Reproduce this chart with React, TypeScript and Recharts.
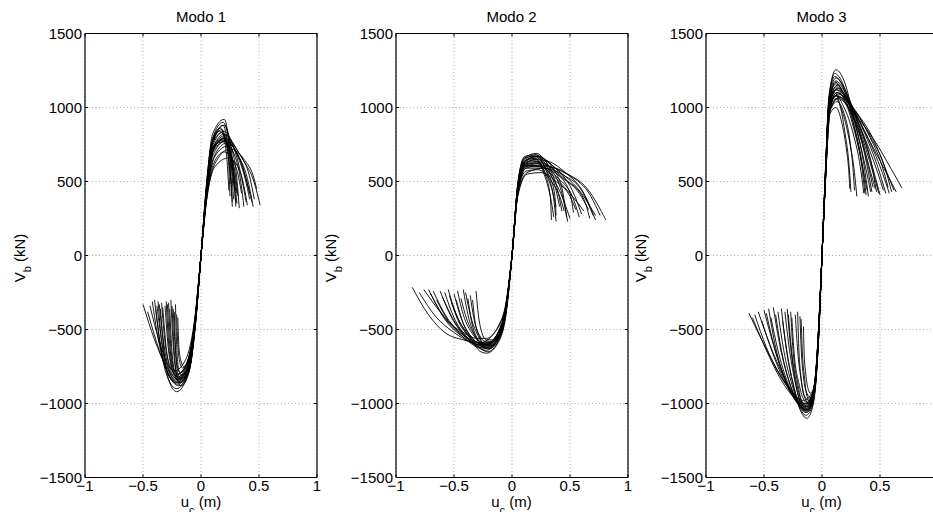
import React from 'react';
import { LineChart, Line, XAxis, YAxis, CartesianGrid, ReferenceLine } from 'recharts';

// ---- tick values / labels ----
const X_TICKS = [-1, -0.5, 0, 0.5, 1];
const Y_TICKS = [-1500, -1000, -500, 0, 500, 1000, 1500];
const TITLES = ['Modo 1', 'Modo 2', 'Modo 3'];

// ---- Modo 1 curves: [u_c (m), V_b (kN)] ----
const modo1: number[][][] = [
  [[-0.5, -330], [-0.4, -570], [-0.3, -750], [-0.22, -840], [-0.12, -760], [-0.05, -440], [0, 0], [0.05, 420], [0.11, 690], [0.22, 780], [0.36, 650], [0.46, 490], [0.51, 340]],
  [[-0.46, -380], [-0.36, -640], [-0.28, -800], [-0.2, -870], [-0.11, -780], [-0.05, -460], [0, 0], [0.05, 450], [0.11, 740], [0.2, 820], [0.32, 700], [0.42, 530], [0.46, 380]],
  [[-0.4, -300], [-0.36, -560], [-0.29, -820], [-0.21, -900], [-0.12, -800], [-0.05, -470], [0, 0], [0.05, 470], [0.11, 780], [0.2, 880], [0.26, 720], [0.3, 330]],
  [[-0.37, -310], [-0.34, -580], [-0.27, -820], [-0.19, -880], [-0.11, -800], [-0.05, -480], [0, 0], [0.05, 480], [0.1, 790], [0.19, 900], [0.25, 720], [0.28, 380]],
  [[-0.34, -320], [-0.31, -590], [-0.26, -760], [-0.2, -820], [-0.12, -730], [-0.05, -420], [0, 0], [0.05, 420], [0.12, 680], [0.22, 760], [0.34, 640], [0.42, 420]],
  [[-0.31, -340], [-0.28, -640], [-0.23, -810], [-0.18, -850], [-0.1, -760], [-0.05, -470], [0, 0], [0.05, 470], [0.1, 770], [0.18, 850], [0.23, 700], [0.26, 480]],
  [[-0.29, -330], [-0.27, -600], [-0.24, -760], [-0.2, -800], [-0.12, -720], [-0.05, -430], [0, 0], [0.05, 410], [0.12, 670], [0.23, 740], [0.32, 600], [0.37, 330]],
  [[-0.27, -360], [-0.25, -650], [-0.22, -800], [-0.19, -830], [-0.11, -750], [-0.05, -450], [0, 0], [0.05, 450], [0.11, 720], [0.21, 800], [0.29, 640], [0.33, 320]],
  [[-0.25, -340], [-0.23, -650], [-0.2, -850], [-0.17, -880], [-0.1, -780], [-0.05, -480], [0, 0], [0.05, 490], [0.1, 790], [0.17, 860], [0.22, 680], [0.24, 440]],
  [[-0.23, -380], [-0.22, -620], [-0.2, -760], [-0.18, -790], [-0.11, -700], [-0.05, -420], [0, 0], [0.05, 400], [0.12, 640], [0.2, 700], [0.3, 600], [0.35, 420]],
  [[-0.21, -400], [-0.2, -600], [-0.18, -730], [-0.16, -760], [-0.1, -680], [-0.05, -410], [0, 0], [0.05, 380], [0.12, 600], [0.24, 660], [0.34, 560], [0.4, 340]],
  [[-0.44, -340], [-0.36, -580], [-0.29, -730], [-0.23, -780], [-0.13, -700], [-0.05, -400], [0, 0], [0.05, 390], [0.12, 620], [0.25, 720], [0.38, 640], [0.45, 540], [0.48, 450]],
  [[-0.35, -360], [-0.32, -640], [-0.27, -860], [-0.21, -920], [-0.12, -820], [-0.05, -490], [0, 0], [0.05, 500], [0.1, 820], [0.2, 920], [0.24, 760], [0.27, 360]],
  [[-0.3, -310], [-0.28, -580], [-0.25, -760], [-0.22, -810], [-0.12, -740], [-0.05, -440], [0, 0], [0.05, 440], [0.11, 720], [0.19, 780], [0.27, 620], [0.31, 350]],
  [[-0.2, -420], [-0.19, -620], [-0.17, -720], [-0.15, -750], [-0.09, -680], [-0.04, -380], [0, 0], [0.04, 420], [0.09, 750], [0.16, 840], [0.24, 700], [0.29, 440]],
  [[-0.38, -340], [-0.33, -620], [-0.26, -810], [-0.2, -860], [-0.11, -780], [-0.05, -460], [0, 0], [0.05, 460], [0.11, 740], [0.21, 810], [0.31, 660], [0.39, 360]],
  [[-0.42, -310], [-0.37, -560], [-0.3, -770], [-0.22, -860], [-0.12, -790], [-0.05, -470], [0, 0], [0.05, 460], [0.11, 760], [0.2, 840], [0.3, 700], [0.38, 520], [0.42, 380]],
  [[-0.33, -350], [-0.3, -620], [-0.25, -800], [-0.2, -840], [-0.11, -760], [-0.05, -450], [0, 0], [0.05, 450], [0.11, 730], [0.2, 790], [0.27, 640], [0.31, 420]],
  [[-0.28, -320], [-0.26, -620], [-0.22, -820], [-0.18, -860], [-0.1, -770], [-0.05, -460], [0, 0], [0.05, 470], [0.1, 760], [0.18, 830], [0.24, 660], [0.27, 330]],
  [[-0.24, -360], [-0.22, -640], [-0.2, -800], [-0.17, -830], [-0.1, -740], [-0.05, -440], [0, 0], [0.05, 440], [0.11, 730], [0.19, 790], [0.26, 650], [0.3, 360]],
  [[-0.36, -330], [-0.32, -600], [-0.27, -780], [-0.21, -830], [-0.12, -750], [-0.05, -440], [0, 0], [0.05, 430], [0.11, 710], [0.21, 770], [0.33, 660], [0.44, 360]],
  [[-0.26, -300], [-0.24, -600], [-0.21, -800], [-0.18, -840], [-0.1, -760], [-0.05, -450], [0, 0], [0.05, 460], [0.1, 770], [0.19, 880], [0.23, 740], [0.25, 400]],
  [[-0.39, -360], [-0.35, -600], [-0.29, -790], [-0.22, -850], [-0.12, -770], [-0.05, -450], [0, 0], [0.05, 440], [0.11, 720], [0.21, 790], [0.3, 700], [0.4, 520], [0.45, 330]],
  [[-0.22, -330], [-0.21, -600], [-0.19, -780], [-0.17, -810], [-0.1, -730], [-0.05, -430], [0, 0], [0.05, 450], [0.11, 740], [0.2, 770], [0.28, 620], [0.32, 400]],
];

// ---- Modo 2 curves ----
const modo2: number[][][] = [
  [[-0.86, -215], [-0.72, -400], [-0.58, -520], [-0.42, -570], [-0.28, -590], [-0.15, -520], [-0.05, -330], [0, 0], [0.05, 420], [0.12, 590], [0.25, 610], [0.45, 560], [0.65, 450], [0.81, 240]],
  [[-0.76, -230], [-0.62, -380], [-0.48, -500], [-0.32, -580], [-0.22, -600], [-0.12, -520], [-0.05, -340], [0, 0], [0.05, 430], [0.12, 600], [0.3, 600], [0.5, 540], [0.68, 400], [0.76, 270]],
  [[-0.72, -230], [-0.6, -400], [-0.45, -530], [-0.3, -620], [-0.22, -640], [-0.12, -560], [-0.05, -370], [0, 0], [0.05, 460], [0.12, 630], [0.24, 650], [0.42, 560], [0.6, 420], [0.72, 270]],
  [[-0.68, -240], [-0.56, -420], [-0.42, -540], [-0.29, -600], [-0.2, -590], [-0.11, -500], [-0.05, -330], [0, 0], [0.05, 440], [0.12, 620], [0.26, 620], [0.45, 520], [0.62, 380], [0.67, 250]],
  [[-0.62, -240], [-0.52, -420], [-0.4, -550], [-0.28, -620], [-0.21, -630], [-0.12, -560], [-0.05, -360], [0, 0], [0.05, 470], [0.11, 640], [0.22, 670], [0.36, 600], [0.52, 440], [0.6, 280]],
  [[-0.58, -250], [-0.5, -420], [-0.4, -540], [-0.28, -610], [-0.2, -620], [-0.11, -540], [-0.05, -350], [0, 0], [0.05, 450], [0.12, 610], [0.24, 630], [0.38, 560], [0.5, 420], [0.53, 290]],
  [[-0.55, -230], [-0.48, -400], [-0.38, -530], [-0.27, -630], [-0.21, -650], [-0.12, -580], [-0.05, -380], [0, 0], [0.05, 480], [0.11, 660], [0.21, 690], [0.32, 600], [0.43, 420], [0.48, 230]],
  [[-0.5, -260], [-0.44, -420], [-0.36, -540], [-0.27, -600], [-0.21, -610], [-0.11, -530], [-0.05, -350], [0, 0], [0.05, 460], [0.12, 640], [0.23, 670], [0.33, 580], [0.4, 420], [0.43, 300]],
  [[-0.47, -240], [-0.42, -400], [-0.34, -530], [-0.26, -590], [-0.2, -600], [-0.11, -520], [-0.05, -340], [0, 0], [0.05, 440], [0.12, 600], [0.22, 620], [0.32, 540], [0.37, 400], [0.38, 270]],
  [[-0.44, -290], [-0.39, -430], [-0.32, -540], [-0.25, -590], [-0.19, -590], [-0.1, -510], [-0.05, -340], [0, 0], [0.05, 450], [0.12, 620], [0.2, 650], [0.28, 560], [0.33, 400], [0.34, 240]],
  [[-0.4, -250], [-0.36, -400], [-0.3, -530], [-0.24, -600], [-0.19, -610], [-0.1, -530], [-0.05, -350], [0, 0], [0.05, 470], [0.11, 640], [0.19, 660], [0.28, 570], [0.35, 430], [0.38, 330]],
  [[-0.36, -270], [-0.33, -420], [-0.28, -540], [-0.23, -580], [-0.18, -580], [-0.1, -500], [-0.05, -330], [0, 0], [0.05, 420], [0.12, 570], [0.22, 580], [0.34, 500], [0.42, 380], [0.45, 300]],
  [[-0.31, -240], [-0.29, -400], [-0.26, -520], [-0.22, -570], [-0.18, -570], [-0.1, -490], [-0.05, -320], [0, 0], [0.05, 400], [0.13, 550], [0.25, 560], [0.38, 500], [0.5, 400], [0.55, 310]],
  [[-0.65, -300], [-0.55, -440], [-0.42, -520], [-0.3, -560], [-0.22, -560], [-0.12, -480], [-0.05, -310], [0, 0], [0.05, 410], [0.13, 560], [0.28, 590], [0.45, 540], [0.6, 440], [0.7, 270]],
  [[-0.52, -320], [-0.45, -450], [-0.36, -560], [-0.27, -650], [-0.22, -660], [-0.12, -590], [-0.05, -390], [0, 0], [0.05, 490], [0.11, 670], [0.2, 680], [0.3, 560], [0.36, 380], [0.38, 230]],
  [[-0.8, -250], [-0.66, -410], [-0.5, -520], [-0.34, -590], [-0.24, -610], [-0.12, -540], [-0.05, -350], [0, 0], [0.05, 450], [0.12, 620], [0.28, 640], [0.46, 560], [0.62, 420], [0.72, 240]],
  [[-0.7, -260], [-0.58, -430], [-0.44, -540], [-0.3, -600], [-0.22, -600], [-0.12, -520], [-0.05, -340], [0, 0], [0.05, 440], [0.12, 610], [0.26, 600], [0.4, 520], [0.52, 400], [0.58, 260]],
  [[-0.6, -280], [-0.5, -440], [-0.38, -560], [-0.27, -620], [-0.21, -620], [-0.11, -550], [-0.05, -360], [0, 0], [0.05, 460], [0.12, 640], [0.24, 660], [0.36, 580], [0.44, 420], [0.47, 260]],
  [[-0.48, -300], [-0.42, -460], [-0.34, -560], [-0.26, -610], [-0.2, -620], [-0.11, -540], [-0.05, -350], [0, 0], [0.05, 470], [0.11, 650], [0.21, 680], [0.3, 600], [0.38, 440], [0.41, 330]],
  [[-0.42, -230], [-0.38, -400], [-0.32, -540], [-0.25, -620], [-0.2, -630], [-0.11, -560], [-0.05, -370], [0, 0], [0.05, 480], [0.11, 660], [0.2, 670], [0.3, 580], [0.42, 420], [0.5, 250]],
  [[-0.38, -290], [-0.35, -440], [-0.3, -560], [-0.24, -610], [-0.19, -610], [-0.1, -530], [-0.05, -350], [0, 0], [0.05, 450], [0.12, 610], [0.24, 600], [0.38, 520], [0.52, 400], [0.62, 300]],
  [[-0.54, -270], [-0.47, -430], [-0.38, -540], [-0.28, -590], [-0.21, -590], [-0.11, -510], [-0.05, -330], [0, 0], [0.05, 430], [0.12, 590], [0.27, 590], [0.44, 520], [0.58, 420], [0.66, 310]],
  [[-0.34, -300], [-0.32, -440], [-0.28, -550], [-0.23, -600], [-0.18, -600], [-0.1, -520], [-0.05, -340], [0, 0], [0.05, 460], [0.12, 630], [0.2, 640], [0.29, 520], [0.34, 360], [0.36, 260]],
];

// ---- Modo 3 curves ----
const modo3: number[][][] = [
  [[-0.63, -390], [-0.5, -600], [-0.35, -820], [-0.22, -960], [-0.14, -1000], [-0.07, -900], [-0.03, -500], [0, 0], [0.03, 500], [0.06, 950], [0.12, 1080], [0.25, 980], [0.45, 780], [0.6, 580], [0.69, 455]],
  [[-0.55, -380], [-0.45, -600], [-0.33, -820], [-0.22, -970], [-0.14, -1020], [-0.07, -920], [-0.03, -520], [0, 0], [0.03, 520], [0.06, 980], [0.13, 1100], [0.25, 1000], [0.42, 760], [0.58, 520], [0.64, 430]],
  [[-0.5, -370], [-0.42, -600], [-0.32, -840], [-0.22, -990], [-0.15, -1040], [-0.08, -960], [-0.03, -540], [0, 0], [0.03, 540], [0.06, 1000], [0.13, 1150], [0.22, 1050], [0.38, 820], [0.52, 560], [0.58, 420]],
  [[-0.46, -360], [-0.4, -620], [-0.31, -850], [-0.21, -1000], [-0.14, -1050], [-0.08, -980], [-0.03, -550], [0, 0], [0.03, 560], [0.06, 1020], [0.12, 1180], [0.2, 1100], [0.34, 850], [0.48, 560], [0.53, 440]],
  [[-0.42, -350], [-0.36, -620], [-0.28, -860], [-0.2, -1010], [-0.14, -1060], [-0.08, -990], [-0.03, -560], [0, 0], [0.03, 570], [0.06, 1040], [0.12, 1200], [0.2, 1120], [0.32, 860], [0.44, 560], [0.49, 420]],
  [[-0.38, -380], [-0.33, -640], [-0.26, -870], [-0.19, -1030], [-0.14, -1080], [-0.08, -1010], [-0.03, -570], [0, 0], [0.03, 580], [0.06, 1060], [0.11, 1230], [0.18, 1160], [0.28, 900], [0.38, 580], [0.42, 430]],
  [[-0.35, -360], [-0.31, -620], [-0.25, -870], [-0.19, -1040], [-0.13, -1100], [-0.08, -1020], [-0.03, -580], [0, 0], [0.03, 590], [0.06, 1080], [0.12, 1255], [0.18, 1200], [0.27, 950], [0.36, 620], [0.4, 400]],
  [[-0.32, -380], [-0.28, -640], [-0.23, -860], [-0.18, -1000], [-0.13, -1040], [-0.08, -960], [-0.03, -540], [0, 0], [0.03, 550], [0.06, 1010], [0.13, 1120], [0.22, 1040], [0.33, 820], [0.42, 560], [0.46, 450]],
  [[-0.29, -400], [-0.26, -660], [-0.22, -860], [-0.17, -990], [-0.12, -1020], [-0.07, -940], [-0.03, -530], [0, 0], [0.03, 530], [0.06, 990], [0.13, 1080], [0.23, 1000], [0.33, 800], [0.4, 600], [0.44, 460]],
  [[-0.26, -420], [-0.24, -660], [-0.2, -860], [-0.16, -970], [-0.12, -1000], [-0.07, -920], [-0.03, -520], [0, 0], [0.03, 520], [0.06, 970], [0.14, 1060], [0.24, 980], [0.34, 780], [0.4, 560], [0.43, 430]],
  [[-0.23, -400], [-0.21, -640], [-0.18, -840], [-0.15, -950], [-0.11, -980], [-0.07, -900], [-0.03, -510], [0, 0], [0.03, 510], [0.07, 980], [0.13, 1040], [0.19, 960], [0.24, 780], [0.27, 560], [0.28, 440]],
  [[-0.19, -410], [-0.18, -620], [-0.16, -820], [-0.13, -930], [-0.1, -960], [-0.06, -880], [-0.03, -500], [0, 0], [0.03, 500], [0.07, 960], [0.12, 1000], [0.17, 900], [0.21, 720], [0.23, 580], [0.24, 450]],
  [[-0.16, -480], [-0.155, -640], [-0.14, -800], [-0.12, -900], [-0.1, -930], [-0.06, -860], [-0.03, -490], [0, 0], [0.03, 520], [0.06, 1000], [0.11, 1100], [0.16, 1000], [0.2, 820], [0.23, 640], [0.25, 430]],
  [[-0.58, -400], [-0.48, -620], [-0.37, -800], [-0.25, -930], [-0.16, -980], [-0.08, -920], [-0.03, -510], [0, 0], [0.03, 510], [0.07, 980], [0.15, 1070], [0.28, 980], [0.44, 790], [0.56, 560], [0.62, 440]],
  [[-0.44, -420], [-0.38, -640], [-0.3, -850], [-0.21, -980], [-0.15, -1020], [-0.08, -950], [-0.03, -540], [0, 0], [0.03, 540], [0.06, 1000], [0.13, 1130], [0.21, 1060], [0.32, 880], [0.42, 640], [0.47, 430]],
  [[-0.34, -440], [-0.3, -660], [-0.25, -860], [-0.19, -1010], [-0.13, -1050], [-0.08, -980], [-0.03, -560], [0, 0], [0.03, 560], [0.06, 1030], [0.12, 1170], [0.19, 1080], [0.28, 860], [0.35, 600], [0.38, 410]],
  [[-0.6, -420], [-0.48, -640], [-0.36, -830], [-0.24, -960], [-0.15, -1000], [-0.08, -930], [-0.03, -520], [0, 0], [0.03, 530], [0.06, 990], [0.13, 1100], [0.26, 1000], [0.42, 800], [0.54, 600], [0.6, 430]],
  [[-0.48, -390], [-0.41, -620], [-0.32, -830], [-0.22, -980], [-0.15, -1030], [-0.08, -960], [-0.03, -540], [0, 0], [0.03, 550], [0.06, 1010], [0.12, 1140], [0.22, 1060], [0.36, 840], [0.48, 600], [0.55, 420]],
  [[-0.4, -400], [-0.35, -640], [-0.28, -860], [-0.2, -1000], [-0.14, -1040], [-0.08, -970], [-0.03, -550], [0, 0], [0.03, 560], [0.06, 1030], [0.12, 1160], [0.2, 1080], [0.32, 880], [0.42, 640], [0.5, 410]],
  [[-0.3, -360], [-0.27, -620], [-0.23, -850], [-0.18, -1010], [-0.13, -1060], [-0.08, -990], [-0.03, -560], [0, 0], [0.03, 570], [0.06, 1050], [0.11, 1210], [0.18, 1140], [0.27, 900], [0.34, 620], [0.37, 420]],
  [[-0.27, -380], [-0.25, -640], [-0.21, -860], [-0.17, -1000], [-0.12, -1040], [-0.07, -960], [-0.03, -540], [0, 0], [0.03, 540], [0.06, 1000], [0.12, 1120], [0.2, 1040], [0.28, 840], [0.35, 600], [0.39, 440]],
  [[-0.21, -380], [-0.2, -620], [-0.18, -830], [-0.15, -960], [-0.11, -1000], [-0.07, -920], [-0.03, -520], [0, 0], [0.03, 530], [0.06, 990], [0.12, 1080], [0.19, 1000], [0.27, 820], [0.33, 600], [0.36, 420]],
  [[-0.52, -440], [-0.43, -650], [-0.33, -840], [-0.23, -970], [-0.15, -1010], [-0.08, -940], [-0.03, -530], [0, 0], [0.03, 540], [0.06, 1000], [0.14, 1090], [0.25, 1020], [0.4, 820], [0.52, 600], [0.57, 460]],
  [[-0.18, -430], [-0.17, -640], [-0.15, -830], [-0.13, -950], [-0.1, -980], [-0.06, -900], [-0.03, -510], [0, 0], [0.03, 520], [0.06, 980], [0.12, 1060], [0.18, 960], [0.24, 760], [0.28, 560], [0.3, 400]],
];

const PANELS = [modo1, modo2, modo3];
const PLOT_LEFTS = [85, 395.5, 705.5];

const FONT = '"Liberation Sans", Arial, Helvetica, sans-serif';
const fmt = (v: number) => (v < 0 ? '\u2212' + String(Math.abs(v)) : String(v));

const AXIS_W = 85;
const PLOT_W = 232;
const CHART_W = AXIS_W + PLOT_W + 4;
const CHART_H = 512;
const PLOT_TOP = 33.5;
const TICK_GAP = 3;
const TICK_LEN = 3;

const XTick = (props: any) => {
  const { x, y, payload } = props;
  const axisY = y - TICK_GAP;
  return (
    <g>
      <line x1={x} x2={x} y1={axisY} y2={axisY - TICK_LEN} stroke="#000" strokeWidth={1} />
      <line x1={x} x2={x} y1={PLOT_TOP} y2={PLOT_TOP + TICK_LEN} stroke="#000" strokeWidth={1} />
      <text x={x} y={y} dy="0.71em" textAnchor="middle" fill="#000" fontSize={15} fontFamily={FONT}>
        {fmt(payload.value)}
      </text>
    </g>
  );
};

const YTick = (props: any) => {
  const { x, y, payload } = props;
  const axisX = x + TICK_GAP;
  const rightX = AXIS_W + PLOT_W;
  return (
    <g>
      <line x1={axisX} x2={axisX + TICK_LEN} y1={y} y2={y} stroke="#000" strokeWidth={1} />
      <line x1={rightX} x2={rightX - TICK_LEN} y1={y} y2={y} stroke="#000" strokeWidth={1} />
      <text x={x} y={y} dy="0.355em" textAnchor="end" fill="#000" fontSize={15} fontFamily={FONT}>
        {fmt(payload.value)}
      </text>
    </g>
  );
};

function Panel({ curves, left }: { curves: number[][][]; left: number }) {
  return (
    <div style={{ position: 'absolute', left: left - AXIS_W, top: 0, width: CHART_W, height: CHART_H }}>
      <LineChart width={CHART_W} height={CHART_H} margin={{ top: PLOT_TOP, right: 4, bottom: 5, left: 0 }}>
        <CartesianGrid stroke="#9a9a9a" strokeWidth={0.8} strokeDasharray="1 2.5" />
        <XAxis
          type="number"
          dataKey="x"
          domain={[-1, 1]}
          ticks={X_TICKS}
          allowDataOverflow
          height={29.5}
          axisLine={{ stroke: '#000', strokeWidth: 1.2 }}
          tickLine={false}
          tickSize={TICK_GAP}
          tickMargin={0}
          tick={<XTick />}
          interval={0}
        />
        <YAxis
          type="number"
          domain={[-1500, 1500]}
          ticks={Y_TICKS}
          allowDataOverflow
          width={AXIS_W}
          axisLine={{ stroke: '#000', strokeWidth: 1.2 }}
          tickLine={false}
          tickSize={TICK_GAP}
          tickMargin={0}
          tick={<YTick />}
          interval={0}
        />
        <ReferenceLine x={1} stroke="#000" strokeWidth={1.2} ifOverflow="visible" />
        <ReferenceLine y={1500} stroke="#000" strokeWidth={1.2} ifOverflow="visible" />
        {curves.map((c, i) => (
          <Line
            key={i}
            data={c.map(([x, y]) => ({ x, y }))}
            dataKey="y"
            type="monotoneX"
            stroke="#000"
            strokeWidth={0.9}
            dot={false}
            activeDot={false}
            isAnimationActive={false}
          />
        ))}
      </LineChart>
    </div>
  );
}

export default function App() {
  return (
    <div
      style={{
        position: 'absolute',
        left: 0,
        top: 0,
        width: 933,
        height: 512,
        overflow: 'hidden',
        background: '#fff',
      }}
    >
      {PANELS.map((curves, i) => (
        <Panel key={i} curves={curves} left={PLOT_LEFTS[i]} />
      ))}
      <svg
        width={933}
        height={512}
        style={{ position: 'absolute', left: 0, top: 0, pointerEvents: 'none' }}
        fontFamily={FONT}
      >
        {PLOT_LEFTS.map((l, i) => {
          const cx = l + PLOT_W / 2;
          return (
            <g key={i}>
              <text x={cx} y={21.5} textAnchor="middle" fontSize={15} fill="#000">
                {TITLES[i]}
              </text>
              <text x={cx} y={507} textAnchor="middle" fontSize={15} fill="#000">
                u
                <tspan dy={7} fontSize={11}>c</tspan>
                <tspan dy={-7}> (m)</tspan>
              </text>
              <text
                transform={`translate(${l - 60},258) rotate(-90)`}
                textAnchor="middle"
                fontSize={15}
                fill="#000"
              >
                V
                <tspan dy={6} fontSize={11}>b</tspan>
                <tspan dy={-6}> (kN)</tspan>
              </text>
            </g>
          );
        })}
      </svg>
    </div>
  );
}
